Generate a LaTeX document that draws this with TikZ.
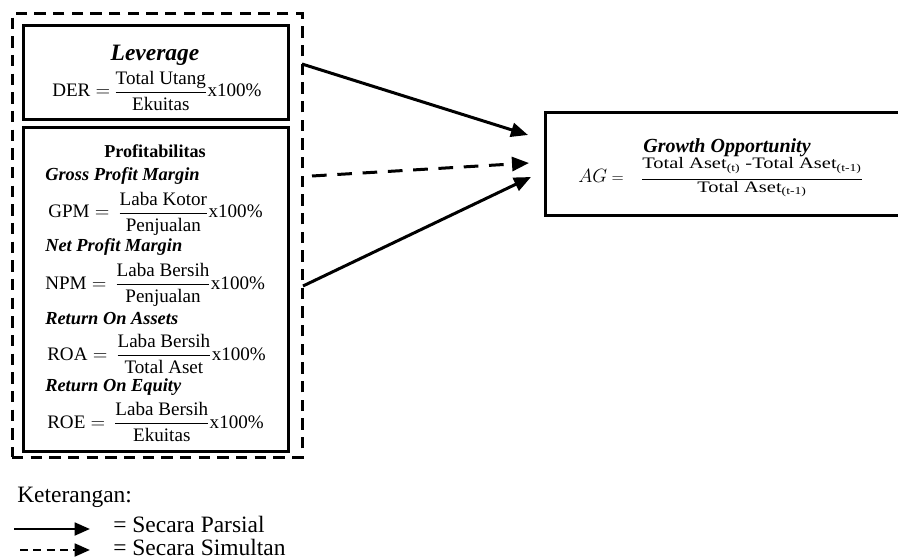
\documentclass[tikz,border=0pt]{standalone}
\usepackage{amsmath}
\usepackage{fontspec}
\setmainfont{Liberation Serif}
\newfontfamily\widefont[FakeStretch=1.28]{Liberation Serif}
\usetikzlibrary{arrows.meta,fit}

\begin{document}
\begin{tikzpicture}[x=0.75pt,y=-0.75pt,
  box/.style={draw, line width=2.25pt, inner sep=0pt},
  dashbox/.style={box, dash pattern=on 8.5pt off 5.5pt},
  ttl/.style={inner sep=0pt, anchor=base, font=\fontsize{17.6}{20}\selectfont\bfseries\itshape},
  sub/.style={inner sep=0pt, anchor=base west, font=\fontsize{13.8}{16}\selectfont\bfseries\itshape},
  frm/.style={inner sep=0pt, anchor=base west, font=\fontsize{14.3}{17}\selectfont},
  leg/.style={inner sep=0pt, anchor=base west, font=\fontsize{17.6}{20}\selectfont},
  arr/.style={line width=2.25pt, -{Triangle[length=12.75pt,width=10.5pt]}},
  legarr/.style={line width=2.1pt, -{Triangle[length=11.5pt,width=9.5pt]}},
  dsh/.style={dash pattern=on 11pt off 8pt},
  legdsh/.style={dash pattern=on 6pt off 4pt}]

\useasboundingbox (0,0) rectangle (898,559);
\clip (0,0) rectangle (898,559);

% frames
\node[dashbox, fit={(12,14) (302,457)}] (outer) {};
\node[box, fit={(23,26) (288,120)}] (lev) {};
\node[box, fit={(23,128) (288,451)}] (prof) {};
\node[box, fit={(545,113) (912,216)}] (grow) {};

% leverage
\node[ttl] (levt) at (155,61) {Leverage};
\node[frm] (der) at (52,97) {$\text{DER} = \mkern-1.5mu \dfrac{\text{Total Utang}}{\text{Ekuitas}}\text{x100\%}$};

% profitability ratios
\node[ttl, font=\fontsize{13.6}{16}\selectfont\bfseries] (proft) at (155,158) {Profitabilitas};
\node[sub] (gpmt) at (45,181) {Gross Profit Margin};
\node[frm] (gpm) at (48,218) {$\text{GPM} = \mkern3mu \dfrac{\text{Laba Kotor}}{\text{Penjualan}}\text{x100\%}$};
\node[sub] (npmt) at (45,252) {Net Profit Margin};
\node[frm] (npm) at (45,289) {$\text{NPM} = \mkern3mu \dfrac{\text{Laba Bersih}}{\text{Penjualan}}\text{x100\%}$};
\node[sub] (roat) at (45,324) {Return On Assets};
\node[frm] (roa) at (47,360) {$\text{ROA} = \mkern3mu \dfrac{\text{Laba Bersih}}{\text{Total Aset}}\text{x100\%}$};
\node[sub] (roet) at (45,391) {Return On Equity};
\node[frm] (roe) at (47,428) {$\text{ROE} = \mkern3mu \dfrac{\text{Laba Bersih}}{\text{Ekuitas}}\text{x100\%}$};

% growth opportunity
\node[ttl, font=\fontsize{15}{18}\selectfont\bfseries\itshape] (growt) at (727,153) {Growth Opportunity};
\node[frm, font=\fontsize{12}{14}\widefont] (ag) at (578,183)
  {$\mbox{\fontsize{14.5}{16}\selectfont$AG$} \mathrel{=} \mkern14mu \dfrac{\raisebox{2.4pt}{Total Aset\textsubscript{(t)} -Total Aset\textsubscript{(t-1)}}}{\raisebox{1.5pt}{Total Aset\textsubscript{(t-1)}}}$};

% connectors
\coordinate (s1) at (302,64);  \coordinate (e1) at (528,135);
\coordinate (s2) at (312,176); \coordinate (e2) at (529,163);
\coordinate (s3) at (303,286); \coordinate (e3) at (531,177);
\draw[arr] (s1) -- (e1);
\draw[arr, dsh] (s2) -- (e2);
\draw[arr] (s3) -- (e3);

% legend
\node[leg] (ket) at (17,502) {Keterangan:};
\coordinate (la1) at (14,529); \coordinate (lb1) at (90,529);
\coordinate (la2) at (20,550); \coordinate (lb2) at (90,550);
\draw[legarr] (la1) -- (lb1);
\draw[legarr, legdsh] (la2) -- (lb2);
\node[leg] (l1) at (113,532) {= Secara Parsial};
\node[leg] (l2) at (113,555) {= Secara Simultan};
\end{tikzpicture}
\end{document}
